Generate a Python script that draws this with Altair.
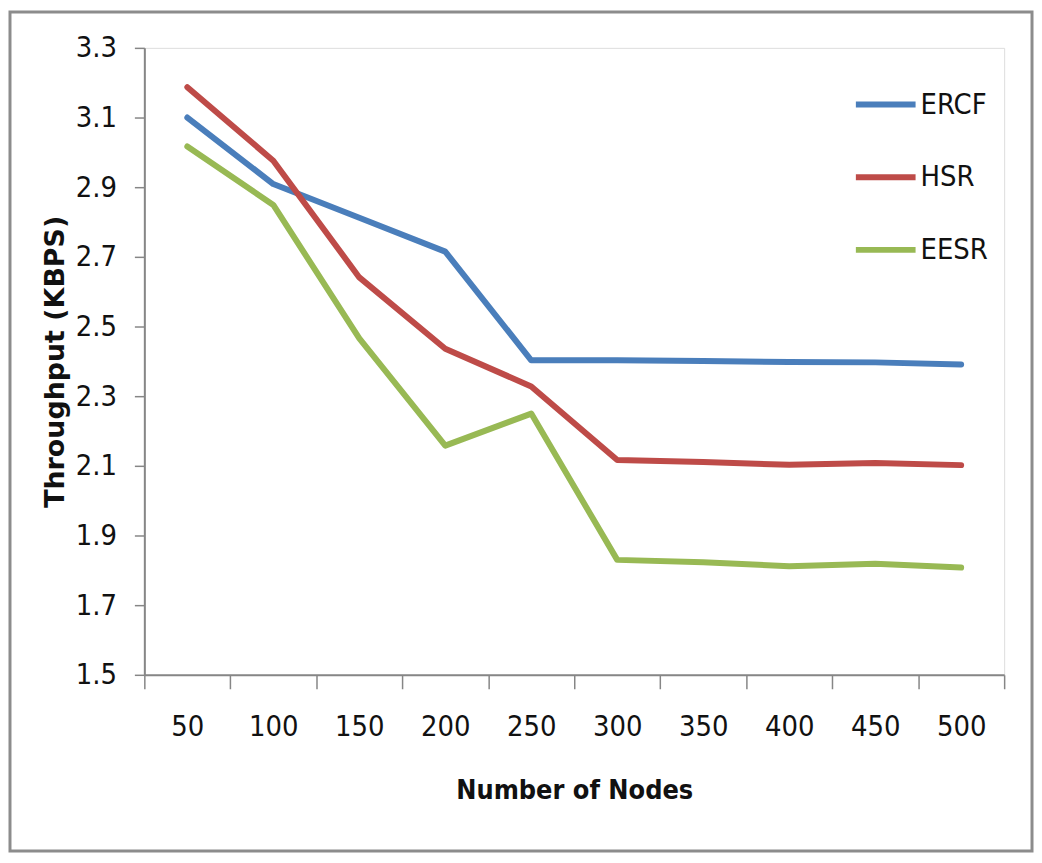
import altair as alt
import pandas as pd

nodes = ["50", "100", "150", "200", "250", "300", "350", "400", "450", "500"]
ercf = [3.10, 2.909, 2.812, 2.715, 2.403, 2.403, 2.401, 2.398, 2.397, 2.391]
hsr = [3.187, 2.976, 2.641, 2.436, 2.328, 2.117, 2.111, 2.103, 2.108, 2.102]
eesr = [3.017, 2.849, 2.466, 2.158, 2.25, 1.83, 1.823, 1.812, 1.819, 1.808]
series = ["ERCF", "HSR", "EESR"]
colors = ["#4A7EBB", "#BE4B48", "#98B954"]
y_ticks = [1.5, 1.7, 1.9, 2.1, 2.3, 2.5, 2.7, 2.9, 3.1, 3.3]

rows = []
for name, vals in zip(series, [ercf, hsr, eesr]):
    for n, v in zip(nodes, vals):
        rows.append({"nodes": n, "throughput": v, "series": name})
df = pd.DataFrame(rows)

FONT = "Liberation Sans Narrow, DejaVu Sans Condensed, sans-serif"
W, H = 864, 630
PL, PT, PR, PB = 137, 38, 30, 179

lines = alt.Chart(df).mark_line(strokeWidth=6, strokeCap="round", strokeJoin="round").encode(
    x=alt.X("nodes:O", sort=nodes,
            scale=alt.Scale(type="band", paddingInner=0, paddingOuter=0),
            axis=alt.Axis(title="Number of Nodes", labelAngle=0, tickBand="extent",
                          tickSize=14, tickColor="#868686", tickWidth=1.5,
                          domainColor="#868686", domainWidth=2,
                          labelFont=FONT, labelFontSize=29, labelColor="#111",
                          labelPadding=24,
                          titleFont=FONT, titleFontSize=27, titleFontWeight="bold",
                          titleColor="#111", titlePadding=36)),
    y=alt.Y("throughput:Q",
            scale=alt.Scale(domain=[1.5, 3.3], nice=False, zero=False),
            axis=alt.Axis(title="Throughput  (KBPS)", values=y_ticks, format=".1f",
                          grid=False, tickSize=10, tickColor="#868686", tickWidth=1.5,
                          domainColor="#868686", domainWidth=2,
                          labelFont=FONT, labelFontSize=29, labelColor="#111",
                          labelPadding=18,
                          titleFont="DejaVu Sans, sans-serif", titleFontSize=27,
                          titleFontWeight="bold", titleColor="#111", titlePadding=6)),
    color=alt.Color("series:N", sort=series,
                    scale=alt.Scale(domain=series, range=colors),
                    legend=alt.Legend(title=None, orient="none", legendX=712, legendY=24,
                                      symbolType="stroke", symbolSize=3600,
                                      symbolStrokeWidth=6, labelFont=FONT,
                                      labelFontSize=29, labelColor="#111",
                                      labelOffset=2, rowPadding=25)),
)

frame = alt.Chart(pd.DataFrame({"a": [0]})).mark_rect(
    filled=False, stroke="#8c8c8c", strokeWidth=3
).encode(
    x=alt.value(-PL + 2), x2=alt.value(W + PR - 2),
    y=alt.value(-PT + 2), y2=alt.value(H + PB - 2),
)

chart = alt.layer(frame, lines).properties(
    width=W, height=H,
    padding={"left": PL, "top": PT, "right": PR, "bottom": PB},
    autosize=alt.AutoSizeParams(type="none"),
).configure_view(stroke="#111", strokeWidth=2).configure(background="white")

chart.save("out.html", embed_options={"renderer": "svg", "actions": False})
